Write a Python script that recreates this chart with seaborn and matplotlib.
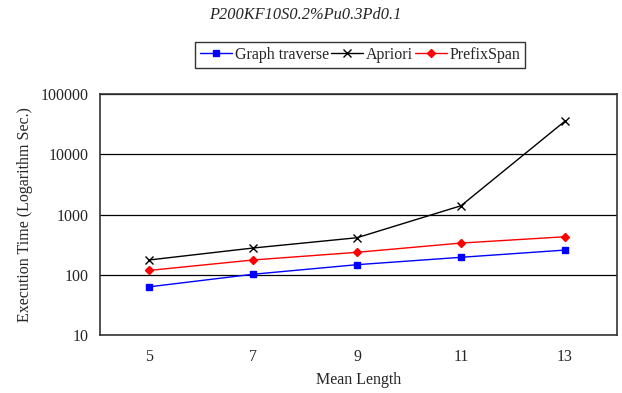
import numpy as np
import pandas as pd
import matplotlib.pyplot as plt
import seaborn as sns
from matplotlib.ticker import FixedLocator, NullFormatter, NullLocator
from matplotlib.lines import Line2D

# data
mean_length = [5, 7, 9, 11, 13]
graph_traverse = [63, 102, 147, 195, 257]
apriori = [176, 278, 412, 1400, 35600]
prefixspan = [118, 176, 236, 336, 428]

df = pd.DataFrame({
    'pos': list(range(len(mean_length))) * 3,
    'time': graph_traverse + apriori + prefixspan,
    'method': ['Graph traverse'] * 5 + ['Apriori'] * 5 + ['PrefixSpan'] * 5,
})

sns.set_style("white")
plt.rcParams['font.family'] = ['Liberation Serif', 'DejaVu Serif']

fs = 11.5
fig = plt.figure(figsize=(6.22, 3.93), dpi=100)
ax = fig.add_axes([0.161, 0.1476, 0.831, 0.613])

styles = {'Graph traverse': ('blue', 's', 4.5), 'Apriori': ('black', 'x', 5.5),
          'PrefixSpan': ('red', 'D', 4)}
handles = []
for name, (col, mk, ms) in styles.items():
    sub = df[df.method == name]
    sns.lineplot(data=sub, x='pos', y='time', color=col, marker=mk, markersize=ms,
                 markeredgecolor=col, markeredgewidth=1, linewidth=1, ax=ax, legend=False)
    handles.append(Line2D([0], [0], color=col, marker=mk, markersize=ms,
                          markeredgecolor=col, linewidth=1, label=name))

ax.set_yscale('log')
ax.set_ylim(10, 100000)
ax.set_xlim(-0.47, 4.5)
ax.yaxis.set_major_locator(FixedLocator([10, 100, 1000, 10000, 100000]))
ax.set_yticklabels(['10', '100', '1000', '10000', '100000'])
ax.yaxis.set_minor_locator(NullLocator())
ax.grid(axis='y', color='black', linewidth=0.9)
ax.tick_params(axis='y', length=0, labelsize=fs, pad=8)

ax.xaxis.set_major_locator(FixedLocator([0.5, 1.5, 2.5, 3.5]))
ax.xaxis.set_major_formatter(NullFormatter())
ax.xaxis.set_minor_locator(FixedLocator(range(5)))
ax.set_xticklabels([str(v) for v in mean_length], minor=True)
ax.tick_params(axis='x', which='major', direction='in', length=5, color='black')
ax.tick_params(axis='x', which='minor', length=0, labelsize=fs, pad=10)

for s in ax.spines.values():
    s.set_color('#333333')
    s.set_linewidth(1.2)

ax.set_xlabel('Mean Length', fontsize=fs, labelpad=5)
ax.set_ylabel('Execution Time (Logarithm Sec.)', fontsize=fs, labelpad=6)

fig.text(0.491, 0.963, 'P200KF10S0.2%Pu0.3Pd0.1', ha='center', va='center',
         fontsize=fs + 0.3, style='italic')
fig.legend(handles=handles, loc='center', bbox_to_anchor=(0.579, 0.86), ncol=3,
           fontsize=fs, frameon=True, fancybox=False, edgecolor='black',
           handlelength=2.0, handletextpad=0.15, columnspacing=0.15, borderpad=0.3,
           borderaxespad=0)

fig.savefig('out.png', dpi=100)
